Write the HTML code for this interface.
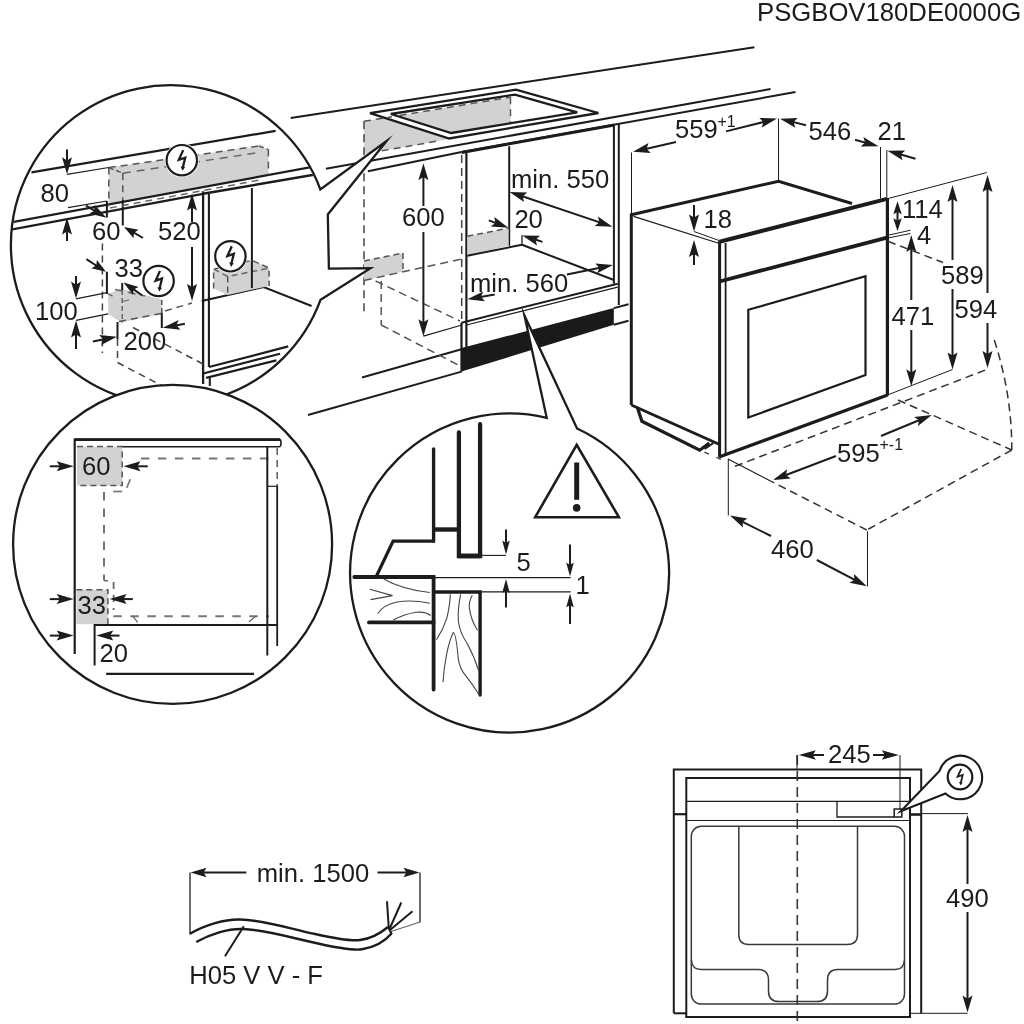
<!DOCTYPE html>
<html><head><meta charset="utf-8"><title>PSGBOV180DE0000G</title>
<style>
html,body{margin:0;padding:0;background:#fff;}
svg{display:block;filter:grayscale(1);}
text{font-family:"Liberation Sans",Arial,Helvetica,sans-serif;fill:#1c1c1c;}
</style></head><body>
<svg width="1024" height="1024" viewBox="0 0 1024 1024">
<rect width="1024" height="1024" fill="#fff"/>
<polygon points="364.0,121.3 510.5,97.2 510.5,128.2 364.0,154.0" fill="#d1d2d3" stroke="none" stroke-width="0"/>
<line x1="290.7" y1="117.9" x2="754.4" y2="47.3" stroke="#1c1c1c" stroke-width="2.0" stroke-linecap="butt"/>
<line x1="325.9" y1="168.8" x2="770.6" y2="89.0" stroke="#1c1c1c" stroke-width="2.0" stroke-linecap="butt"/>
<line x1="367.9" y1="171.2" x2="461.5" y2="152.0" stroke="#1c1c1c" stroke-width="2.0" stroke-linecap="butt"/>
<line x1="461.5" y1="152.0" x2="795.5" y2="92.1" stroke="#1c1c1c" stroke-width="2.0" stroke-linecap="butt"/>
<line x1="461.6" y1="152.4" x2="614.5" y2="125.0" stroke="#1c1c1c" stroke-width="3" stroke-linecap="butt"/>
<polygon points="370.0,113.1 516.0,89.6 598.4,113.0 449.2,138.5" fill="#fff" stroke="#1c1c1c" stroke-width="2.3"/>
<clipPath id="hobclip"><polygon points="390.8,114.0 515.0,94.6 577.2,112.3 451.2,133.0"/></clipPath>
<polygon points="390.8,114.0 515.0,94.6 577.2,112.3 451.2,133.0" fill="#fff" stroke="none" stroke-width="0"/>
<g clip-path="url(#hobclip)">
<polygon points="364.0,121.3 510.5,97.2 510.5,128.2 364.0,154.0" fill="#d1d2d3" stroke="none" stroke-width="0"/>
<line x1="364.0" y1="121.3" x2="510.5" y2="97.2" stroke="#555" stroke-width="1.5" stroke-dasharray="7 5" stroke-linecap="butt"/>
<line x1="510.5" y1="97.2" x2="510.5" y2="128.2" stroke="#555" stroke-width="1.5" stroke-dasharray="7 5" stroke-linecap="butt"/>
</g>
<polygon points="390.8,114.0 515.0,94.6 577.2,112.3 451.2,133.0" fill="none" stroke="#1c1c1c" stroke-width="2.3"/>
<line x1="364.0" y1="121.3" x2="364.0" y2="314.0" stroke="#444" stroke-width="1.5" stroke-dasharray="8 5" stroke-linecap="butt"/>
<line x1="364.0" y1="121.3" x2="392.0" y2="116.7" stroke="#555" stroke-width="1.5" stroke-dasharray="7 5" stroke-linecap="butt"/>
<line x1="370.0" y1="152.9" x2="440.2" y2="140.6" stroke="#555" stroke-width="1.5" stroke-dasharray="7 5" stroke-linecap="butt"/>
<line x1="461.7" y1="155.0" x2="461.7" y2="322.0" stroke="#444" stroke-width="1.5" stroke-dasharray="8 5" stroke-linecap="butt"/>
<line x1="466.4" y1="152.5" x2="466.4" y2="348.0" stroke="#1c1c1c" stroke-width="2.2" stroke-linecap="butt"/>
<line x1="461.5" y1="322.7" x2="461.5" y2="371.6" stroke="#1c1c1c" stroke-width="2.2" stroke-linecap="butt"/>
<line x1="509.2" y1="146.2" x2="509.2" y2="245.8" stroke="#1c1c1c" stroke-width="2.0" stroke-linecap="butt"/>
<line x1="613.9" y1="125.2" x2="613.9" y2="283.7" stroke="#1c1c1c" stroke-width="2.0" stroke-linecap="butt"/>
<line x1="618.8" y1="123.9" x2="618.8" y2="305.0" stroke="#1c1c1c" stroke-width="2.0" stroke-linecap="butt"/>
<polygon points="467.3,236.2 508.6,228.2 508.6,245.8 467.3,255.7" fill="#d1d2d3" stroke="none" stroke-width="0"/>
<line x1="467.3" y1="236.2" x2="508.6" y2="228.2" stroke="#555" stroke-width="1.5" stroke-dasharray="6 4" stroke-linecap="butt"/>
<line x1="467.3" y1="255.7" x2="522.0" y2="244.8" stroke="#1c1c1c" stroke-width="2.0" stroke-linecap="butt"/>
<line x1="522.0" y1="235.0" x2="522.0" y2="245.5" stroke="#1c1c1c" stroke-width="1.3" stroke-linecap="butt"/>
<line x1="522.0" y1="244.8" x2="613.9" y2="280.0" stroke="#1c1c1c" stroke-width="2.0" stroke-linecap="butt"/>
<line x1="461.5" y1="322.7" x2="617.7" y2="283.7" stroke="#1c1c1c" stroke-width="2.0" stroke-linecap="butt"/>
<line x1="466.4" y1="325.0" x2="617.7" y2="287.2" stroke="#1c1c1c" stroke-width="1.2" stroke-linecap="butt"/>
<polygon points="461.5,348.1 613.8,308.1 613.8,324.7 461.5,371.6" fill="#1a1a1a" stroke="none" stroke-width="0"/>
<line x1="613.8" y1="308.1" x2="628.5" y2="304.2" stroke="#1c1c1c" stroke-width="2.0" stroke-linecap="butt"/>
<line x1="613.8" y1="324.7" x2="628.5" y2="320.8" stroke="#1c1c1c" stroke-width="2.0" stroke-linecap="butt"/>
<line x1="362.0" y1="377.5" x2="461.5" y2="349.2" stroke="#1c1c1c" stroke-width="2.0" stroke-linecap="butt"/>
<line x1="308.0" y1="415.0" x2="461.5" y2="371.6" stroke="#1c1c1c" stroke-width="2.0" stroke-linecap="butt"/>
<polygon points="364.0,260.9 403.0,253.1 403.0,271.6 364.0,280.4" fill="#d1d2d3" stroke="none" stroke-width="0"/>
<line x1="364.0" y1="260.9" x2="403.0" y2="253.1" stroke="#555" stroke-width="1.5" stroke-dasharray="6 4" stroke-linecap="butt"/>
<line x1="403.0" y1="253.1" x2="403.0" y2="271.6" stroke="#555" stroke-width="1.5" stroke-dasharray="6 4" stroke-linecap="butt"/>
<line x1="364.0" y1="280.4" x2="461.7" y2="259.0" stroke="#555" stroke-width="1.5" stroke-dasharray="8 5" stroke-linecap="butt"/>
<line x1="381.2" y1="281.0" x2="381.2" y2="325.0" stroke="#555" stroke-width="1.5" stroke-dasharray="8 5" stroke-linecap="butt"/>
<line x1="381.2" y1="325.0" x2="460.0" y2="366.0" stroke="#555" stroke-width="1.5" stroke-dasharray="8 5" stroke-linecap="butt"/>
<line x1="375.6" y1="281.0" x2="460.0" y2="321.0" stroke="#555" stroke-width="1.5" stroke-dasharray="8 5" stroke-linecap="butt"/>
<line x1="423.4" y1="175.1" x2="423.4" y2="206.0" stroke="#1c1c1c" stroke-width="2.0" stroke-linecap="butt"/>
<polygon points="423.4,163.2 428.4,180.2 423.4,177.1 418.4,180.2" fill="#1c1c1c" stroke="none" stroke-width="0"/>
<line x1="423.4" y1="232.0" x2="423.4" y2="324.4" stroke="#1c1c1c" stroke-width="2.0" stroke-linecap="butt"/>
<polygon points="423.4,336.2 418.4,319.2 423.4,322.3 428.4,319.2" fill="#1c1c1c" stroke="none" stroke-width="0"/>
<line x1="423.4" y1="336.2" x2="461.9" y2="325.0" stroke="#1c1c1c" stroke-width="1.2" stroke-linecap="butt"/>
<text x="402.0" y="226.0" font-size="25.6" text-anchor="start" >600</text>
<text x="511.0" y="187.5" font-size="25.6" text-anchor="start" >min. 550</text>
<line x1="520.8" y1="195.7" x2="601.2" y2="222.9" stroke="#1c1c1c" stroke-width="2.0" stroke-linecap="butt"/>
<polygon points="509.5,191.9 527.2,192.6 522.7,196.4 524.0,202.1" fill="#1c1c1c" stroke="none" stroke-width="0"/>
<polygon points="612.5,226.8 594.8,226.0 599.3,222.3 598.0,216.6" fill="#1c1c1c" stroke="none" stroke-width="0"/>
<text x="514.4" y="228.4" font-size="25.6" text-anchor="start" >20</text>
<line x1="488.8" y1="220.4" x2="497.3" y2="223.6" stroke="#1c1c1c" stroke-width="2.0" stroke-linecap="butt"/>
<polygon points="508.4,227.8 490.7,226.5 495.4,222.9 494.3,217.1" fill="#1c1c1c" stroke="none" stroke-width="0"/>
<line x1="542.5" y1="241.9" x2="533.6" y2="239.0" stroke="#1c1c1c" stroke-width="2.0" stroke-linecap="butt"/>
<polygon points="522.3,235.4 540.0,235.8 535.6,239.7 537.0,245.4" fill="#1c1c1c" stroke="none" stroke-width="0"/>
<text x="470.0" y="291.5" font-size="25.6" text-anchor="start" >min. 560</text>
<line x1="494.7" y1="294.4" x2="479.0" y2="297.2" stroke="#1c1c1c" stroke-width="2.0" stroke-linecap="butt"/>
<polygon points="467.3,299.3 483.2,291.4 481.0,296.8 484.9,301.2" fill="#1c1c1c" stroke="none" stroke-width="0"/>
<line x1="567.0" y1="274.4" x2="601.3" y2="267.4" stroke="#1c1c1c" stroke-width="2.0" stroke-linecap="butt"/>
<polygon points="613.0,265.0 597.3,273.3 599.3,267.8 595.3,263.5" fill="#1c1c1c" stroke="none" stroke-width="0"/>
<polyline points="631.3,405.0 631.3,214.8 778.6,181.2 852.0,203.5" fill="none" stroke="#1c1c1c" stroke-width="3.0" stroke-linejoin="miter" stroke-linecap="butt"/>
<line x1="633.5" y1="216.3" x2="719.5" y2="243.5" stroke="#1c1c1c" stroke-width="1.3" stroke-linecap="butt"/>
<line x1="719.5" y1="241.8" x2="887.0" y2="198.9" stroke="#1c1c1c" stroke-width="4.0" stroke-linecap="butt"/>
<line x1="719.6" y1="241.0" x2="719.6" y2="457.2" stroke="#1c1c1c" stroke-width="3.0" stroke-linecap="butt"/>
<line x1="725.6" y1="243.0" x2="725.6" y2="456.0" stroke="#1c1c1c" stroke-width="1.8" stroke-linecap="butt"/>
<line x1="887.4" y1="198.5" x2="887.4" y2="395.5" stroke="#1c1c1c" stroke-width="3.2" stroke-linecap="butt"/>
<line x1="719.5" y1="281.5" x2="887.0" y2="237.6" stroke="#1c1c1c" stroke-width="3.8" stroke-linecap="butt"/>
<line x1="719.0" y1="457.0" x2="887.6" y2="395.0" stroke="#1c1c1c" stroke-width="3.4" stroke-linecap="butt"/>
<line x1="631.3" y1="405.0" x2="719.6" y2="444.5" stroke="#1c1c1c" stroke-width="3.0" stroke-linecap="butt"/>
<polyline points="637.6,408.2 641.9,421.3 699.7,450.2 709.3,443.0" fill="none" stroke="#1c1c1c" stroke-width="3.2" stroke-linejoin="miter" stroke-linecap="butt"/>
<line x1="704.6" y1="449.0" x2="713.2" y2="443.2" stroke="#1c1c1c" stroke-width="2.0" stroke-linecap="butt"/>
<polygon points="748.3,309.8 865.5,276.3 865.5,375.0 748.3,417.5" fill="none" stroke="#1c1c1c" stroke-width="2.2" stroke-linejoin="miter" stroke-linecap="butt"/>
<line x1="631.5" y1="152.5" x2="631.5" y2="214.0" stroke="#1c1c1c" stroke-width="1.0" stroke-linecap="butt"/>
<line x1="644.6" y1="149.2" x2="676.0" y2="142.0" stroke="#1c1c1c" stroke-width="2.0" stroke-linecap="butt"/>
<polygon points="633.0,151.8 648.5,143.1 646.6,148.7 650.7,152.9" fill="#1c1c1c" stroke="none" stroke-width="0"/>
<line x1="726.0" y1="131.4" x2="765.5" y2="121.5" stroke="#1c1c1c" stroke-width="2.0" stroke-linecap="butt"/>
<polygon points="777.0,118.6 761.7,127.6 763.5,122.0 759.3,117.9" fill="#1c1c1c" stroke="none" stroke-width="0"/>
<text x="675.0" y="137.8" font-size="25.6" text-anchor="start" >559</text>
<text x="717.5" y="127.2" font-size="16" text-anchor="start" >+1</text>
<line x1="778.5" y1="118.5" x2="778.5" y2="180.5" stroke="#1c1c1c" stroke-width="1.0" stroke-linecap="butt"/>
<line x1="791.6" y1="121.6" x2="806.0" y2="125.2" stroke="#1c1c1c" stroke-width="2.0" stroke-linecap="butt"/>
<polygon points="780.0,118.8 797.7,118.0 793.5,122.1 795.3,127.7" fill="#1c1c1c" stroke="none" stroke-width="0"/>
<line x1="855.0" y1="139.8" x2="867.0" y2="143.1" stroke="#1c1c1c" stroke-width="2.0" stroke-linecap="butt"/>
<polygon points="878.5,146.3 860.8,146.6 865.1,142.6 863.4,136.9" fill="#1c1c1c" stroke="none" stroke-width="0"/>
<text x="808.5" y="140.2" font-size="25.6" text-anchor="start" >546</text>
<line x1="880.5" y1="147.0" x2="880.5" y2="198.5" stroke="#1c1c1c" stroke-width="1.0" stroke-linecap="butt"/>
<line x1="886.8" y1="150.0" x2="886.8" y2="198.5" stroke="#1c1c1c" stroke-width="1.0" stroke-linecap="butt"/>
<text x="877.5" y="140.2" font-size="25.6" text-anchor="start" >21</text>
<line x1="915.5" y1="158.8" x2="898.9" y2="154.0" stroke="#1c1c1c" stroke-width="2.0" stroke-linecap="butt"/>
<polygon points="887.5,150.8 905.2,150.6 900.9,154.6 902.5,160.2" fill="#1c1c1c" stroke="none" stroke-width="0"/>
<text x="703.5" y="227.7" font-size="25.6" text-anchor="start" >18</text>
<line x1="694.0" y1="205.0" x2="694.0" y2="219.6" stroke="#1c1c1c" stroke-width="2.0" stroke-linecap="butt"/>
<polygon points="694.0,231.5 689.0,214.5 694.0,217.6 699.0,214.5" fill="#1c1c1c" stroke="none" stroke-width="0"/>
<line x1="694.0" y1="265.0" x2="694.0" y2="251.9" stroke="#1c1c1c" stroke-width="2.0" stroke-linecap="butt"/>
<polygon points="694.0,240.0 699.0,257.0 694.0,253.9 689.0,257.0" fill="#1c1c1c" stroke="none" stroke-width="0"/>
<line x1="694.0" y1="231.5" x2="719.0" y2="240.5" stroke="#1c1c1c" stroke-width="1.0" stroke-linecap="butt"/>
<line x1="887.0" y1="198.8" x2="986.8" y2="172.5" stroke="#1c1c1c" stroke-width="1.0" stroke-linecap="butt"/>
<line x1="897.5" y1="210.4" x2="897.5" y2="222.2" stroke="#1c1c1c" stroke-width="2.0" stroke-linecap="butt"/>
<polygon points="897.5,201.3 901.7,214.3 897.5,212.0 893.3,214.3" fill="#1c1c1c" stroke="none" stroke-width="0"/>
<polygon points="897.5,231.3 893.3,218.3 897.5,220.6 901.7,218.3" fill="#1c1c1c" stroke="none" stroke-width="0"/>
<text x="902.0" y="217.7" font-size="25.6" text-anchor="start" >114</text>
<text x="917.0" y="243.8" font-size="25.6" text-anchor="start" >4</text>
<line x1="888.0" y1="235.3" x2="910.5" y2="230.2" stroke="#1c1c1c" stroke-width="1.0" stroke-linecap="butt"/>
<line x1="888.0" y1="238.0" x2="910.5" y2="233.5" stroke="#1c1c1c" stroke-width="1.0" stroke-linecap="butt"/>
<line x1="911.3" y1="246.9" x2="911.3" y2="300.0" stroke="#1c1c1c" stroke-width="2.0" stroke-linecap="butt"/>
<polygon points="911.3,235.0 916.3,252.0 911.3,248.9 906.3,252.0" fill="#1c1c1c" stroke="none" stroke-width="0"/>
<line x1="911.3" y1="330.0" x2="911.3" y2="374.4" stroke="#1c1c1c" stroke-width="2.0" stroke-linecap="butt"/>
<polygon points="911.3,386.3 906.3,369.3 911.3,372.4 916.3,369.3" fill="#1c1c1c" stroke="none" stroke-width="0"/>
<text x="891.5" y="325.2" font-size="25.6" text-anchor="start" >471</text>
<line x1="952.5" y1="196.9" x2="952.5" y2="260.0" stroke="#1c1c1c" stroke-width="2.0" stroke-linecap="butt"/>
<polygon points="952.5,185.0 957.5,202.0 952.5,198.9 947.5,202.0" fill="#1c1c1c" stroke="none" stroke-width="0"/>
<line x1="952.5" y1="289.0" x2="952.5" y2="357.6" stroke="#1c1c1c" stroke-width="2.0" stroke-linecap="butt"/>
<polygon points="952.5,369.5 947.5,352.5 952.5,355.6 957.5,352.5" fill="#1c1c1c" stroke="none" stroke-width="0"/>
<text x="941.0" y="283.8" font-size="25.6" text-anchor="start" >589</text>
<line x1="987.5" y1="186.9" x2="987.5" y2="293.0" stroke="#1c1c1c" stroke-width="2.0" stroke-linecap="butt"/>
<polygon points="987.5,175.0 992.5,192.0 987.5,188.9 982.5,192.0" fill="#1c1c1c" stroke="none" stroke-width="0"/>
<line x1="987.5" y1="323.0" x2="987.5" y2="356.1" stroke="#1c1c1c" stroke-width="2.0" stroke-linecap="butt"/>
<polygon points="987.5,368.0 982.5,351.0 987.5,354.1 992.5,351.0" fill="#1c1c1c" stroke="none" stroke-width="0"/>
<text x="954.5" y="317.7" font-size="25.6" text-anchor="start" >594</text>
<line x1="887.5" y1="395.0" x2="952.5" y2="369.5" stroke="#1c1c1c" stroke-width="1.0" stroke-linecap="butt"/>
<line x1="888.0" y1="241.3" x2="943.0" y2="262.5" stroke="#333" stroke-width="1.5" stroke-dasharray="8 5" stroke-linecap="butt"/>
<path d="M994.3,340 Q1012,395 1011.8,450" fill="none" stroke="#333" stroke-width="1.5" stroke-dasharray="8 5" />
<line x1="735.0" y1="466.3" x2="986.8" y2="369.5" stroke="#333" stroke-width="1.5" stroke-dasharray="8 5" stroke-linecap="butt"/>
<line x1="898.0" y1="400.0" x2="1011.8" y2="450.0" stroke="#333" stroke-width="1.5" stroke-dasharray="8 5" stroke-linecap="butt"/>
<line x1="1011.8" y1="450.0" x2="866.8" y2="530.0" stroke="#333" stroke-width="1.5" stroke-dasharray="8 5" stroke-linecap="butt"/>
<line x1="866.8" y1="530.0" x2="772.5" y2="482.0" stroke="#333" stroke-width="1.5" stroke-dasharray="8 5" stroke-linecap="butt"/>
<line x1="704.4" y1="452.1" x2="728.0" y2="462.5" stroke="#444" stroke-width="1.4" stroke-dasharray="5 8" stroke-linecap="butt"/>
<line x1="728.0" y1="459.0" x2="772.5" y2="482.0" stroke="#1c1c1c" stroke-width="1.1" stroke-linecap="butt"/>
<line x1="784.1" y1="475.8" x2="836.0" y2="456.0" stroke="#1c1c1c" stroke-width="2.0" stroke-linecap="butt"/>
<polygon points="773.0,480.0 787.1,469.3 786.0,475.0 790.7,478.6" fill="#1c1c1c" stroke="none" stroke-width="0"/>
<line x1="881.0" y1="436.0" x2="920.8" y2="419.5" stroke="#1c1c1c" stroke-width="2.0" stroke-linecap="butt"/>
<polygon points="931.8,415.0 918.0,426.1 918.9,420.3 914.1,416.9" fill="#1c1c1c" stroke="none" stroke-width="0"/>
<text x="837.0" y="461.5" font-size="25.6" text-anchor="start" >595</text>
<text x="879.5" y="449.5" font-size="16" text-anchor="start" >+-1</text>
<line x1="728.3" y1="458.8" x2="728.3" y2="515.5" stroke="#1c1c1c" stroke-width="1.0" stroke-linecap="butt"/>
<line x1="867.5" y1="531.3" x2="867.5" y2="586.3" stroke="#1c1c1c" stroke-width="1.0" stroke-linecap="butt"/>
<line x1="740.6" y1="520.8" x2="771.0" y2="536.0" stroke="#1c1c1c" stroke-width="2.0" stroke-linecap="butt"/>
<polygon points="730.0,515.5 747.4,518.6 742.5,521.7 743.0,527.6" fill="#1c1c1c" stroke="none" stroke-width="0"/>
<line x1="816.8" y1="560.0" x2="856.2" y2="580.7" stroke="#1c1c1c" stroke-width="2.0" stroke-linecap="butt"/>
<polygon points="866.8,586.2 849.4,582.8 854.4,579.8 854.0,573.9" fill="#1c1c1c" stroke="none" stroke-width="0"/>
<text x="771.0" y="557.7" font-size="25.6" text-anchor="start" >460</text>
<text x="757.0" y="21.3" font-size="25.7" text-anchor="start" >PSGBOV180DE0000G</text>
<path d="M320.60,299.70 A159.7,159.7 0 1 1 320.31,189.31 L386.6,141.0 L327.8,214.5 L328.9,268.6 L370.5,268.1 Z" fill="#fff" stroke="#1c1c1c" stroke-width="2.3" stroke-linejoin="miter" stroke-miterlimit="10"/>
<clipPath id="c1"><circle cx="170.6" cy="244.9" r="158.79999999999998"/></clipPath>
<g clip-path="url(#c1)">
<polygon points="108.8,167.6 259.0,146.0 268.4,149.6 268.4,175.0 108.8,204.3" fill="#d1d2d3" stroke="none" stroke-width="0"/>
<line x1="31.5" y1="172.4" x2="275.6" y2="130.9" stroke="#1c1c1c" stroke-width="2.2" stroke-linecap="butt"/>
<line x1="0.0" y1="224.3" x2="340.0" y2="161.9" stroke="#1c1c1c" stroke-width="2.2" stroke-linecap="butt"/>
<line x1="0.0" y1="231.6" x2="203.0" y2="193.8" stroke="#1c1c1c" stroke-width="2.2" stroke-linecap="butt"/>
<line x1="203.0" y1="193.8" x2="330.0" y2="172.0" stroke="#1c1c1c" stroke-width="2.6" stroke-linecap="butt"/>
<line x1="108.8" y1="167.6" x2="259.0" y2="146.0" stroke="#555" stroke-width="1.5" stroke-dasharray="7 5" stroke-linecap="butt"/>
<line x1="259.0" y1="146.0" x2="268.4" y2="149.6" stroke="#555" stroke-width="1.5" stroke-dasharray="5 3" stroke-linecap="butt"/>
<line x1="268.4" y1="149.6" x2="268.4" y2="175.0" stroke="#555" stroke-width="1.5" stroke-dasharray="7 5" stroke-linecap="butt"/>
<line x1="108.8" y1="167.6" x2="108.8" y2="206.3" stroke="#555" stroke-width="1.5" stroke-dasharray="7 5" stroke-linecap="butt"/>
<line x1="108.8" y1="167.6" x2="122.8" y2="173.2" stroke="#555" stroke-width="1.5" stroke-dasharray="5 3" stroke-linecap="butt"/>
<line x1="122.8" y1="173.2" x2="259.0" y2="152.5" stroke="#666" stroke-width="1.5" stroke-dasharray="8 6" stroke-linecap="butt"/>
<line x1="122.8" y1="173.2" x2="122.8" y2="200.0" stroke="#555" stroke-width="1.5" stroke-dasharray="7 5" stroke-linecap="butt"/>
<line x1="122.8" y1="200.0" x2="122.8" y2="225.5" stroke="#1c1c1c" stroke-width="2.0" stroke-linecap="butt"/>
<line x1="110.0" y1="207.9" x2="262.0" y2="179.6" stroke="#666" stroke-width="1.5" stroke-dasharray="7 5" stroke-linecap="butt"/>
<line x1="67.0" y1="149.5" x2="67.0" y2="162.4" stroke="#1c1c1c" stroke-width="2.0" stroke-linecap="butt"/>
<polygon points="67.0,174.3 62.0,157.3 67.0,160.4 72.0,157.3" fill="#1c1c1c" stroke="none" stroke-width="0"/>
<line x1="67.0" y1="174.3" x2="108.8" y2="167.5" stroke="#1c1c1c" stroke-width="1.2" stroke-linecap="butt"/>
<line x1="67.0" y1="241.0" x2="67.0" y2="229.4" stroke="#1c1c1c" stroke-width="2.0" stroke-linecap="butt"/>
<polygon points="67.0,217.5 72.0,234.5 67.0,231.4 62.0,234.5" fill="#1c1c1c" stroke="none" stroke-width="0"/>
<line x1="68.0" y1="207.7" x2="106.9" y2="201.0" stroke="#1c1c1c" stroke-width="1.2" stroke-linecap="butt"/>
<text x="40.5" y="201.6" font-size="25.6" text-anchor="start" >80</text>
<line x1="106.9" y1="201.0" x2="106.9" y2="217.5" stroke="#1c1c1c" stroke-width="2.0" stroke-linecap="butt"/>
<line x1="86.0" y1="205.6" x2="96.3" y2="211.7" stroke="#1c1c1c" stroke-width="2.0" stroke-linecap="butt"/>
<polygon points="106.5,217.8 89.3,213.4 94.5,210.7 94.4,204.8" fill="#1c1c1c" stroke="none" stroke-width="0"/>
<line x1="143.0" y1="238.0" x2="132.5" y2="231.9" stroke="#1c1c1c" stroke-width="2.0" stroke-linecap="butt"/>
<polygon points="124.0,227.0 138.6,229.7 133.9,232.8 133.6,238.3" fill="#1c1c1c" stroke="none" stroke-width="0"/>
<text x="92.0" y="240.4" font-size="25.6" text-anchor="start" >60</text>
<line x1="192.0" y1="205.5" x2="192.0" y2="222.0" stroke="#1c1c1c" stroke-width="2.0" stroke-linecap="butt"/>
<polygon points="192.0,193.6 197.0,210.6 192.0,207.5 187.0,210.6" fill="#1c1c1c" stroke="none" stroke-width="0"/>
<line x1="192.0" y1="247.0" x2="192.0" y2="289.1" stroke="#1c1c1c" stroke-width="2.0" stroke-linecap="butt"/>
<polygon points="192.0,301.0 187.0,284.0 192.0,287.1 197.0,284.0" fill="#1c1c1c" stroke="none" stroke-width="0"/>
<text x="158.0" y="239.5" font-size="25.6" text-anchor="start" >520</text>
<line x1="203.1" y1="191.2" x2="203.1" y2="384.0" stroke="#1c1c1c" stroke-width="2.3" stroke-linecap="butt"/>
<line x1="208.9" y1="194.0" x2="208.9" y2="367.0" stroke="#1c1c1c" stroke-width="2.1" stroke-linecap="butt"/>
<line x1="251.9" y1="188.0" x2="251.9" y2="288.0" stroke="#1c1c1c" stroke-width="2.0" stroke-linecap="butt"/>
<polyline points="201.7,301.0 263.6,287.0 311.6,306.1" fill="none" stroke="#1c1c1c" stroke-width="2.1" stroke-linejoin="miter" stroke-linecap="butt"/>
<polygon points="213.6,269.2 251.9,260.3 269.1,268.1 269.1,285.9 227.7,295.0 213.6,288.4" fill="#d1d2d3" stroke="none" stroke-width="0"/>
<polyline points="213.6,288.4 213.6,269.2 251.9,260.3 269.1,268.1 269.1,285.9" fill="none" stroke="#555" stroke-width="1.5" stroke-dasharray="6 4" stroke-linejoin="miter" stroke-linecap="butt"/>
<polyline points="213.6,269.2 227.7,276.5 269.1,268.1" fill="none" stroke="#666" stroke-width="1.5" stroke-dasharray="6 4" stroke-linejoin="miter" stroke-linecap="butt"/>
<line x1="227.7" y1="276.5" x2="227.7" y2="295.0" stroke="#555" stroke-width="1.5" stroke-dasharray="6 4" stroke-linecap="butt"/>
<line x1="251.9" y1="260.3" x2="251.9" y2="288.0" stroke="#1c1c1c" stroke-width="2.0" stroke-linecap="butt"/>
<line x1="209.0" y1="367.0" x2="288.2" y2="346.4" stroke="#1c1c1c" stroke-width="2.2" stroke-linecap="butt"/>
<line x1="203.2" y1="373.5" x2="280.1" y2="353.8" stroke="#1c1c1c" stroke-width="2.2" stroke-linecap="butt"/>
<line x1="206.1" y1="377.9" x2="276.4" y2="360.4" stroke="#1c1c1c" stroke-width="2.2" stroke-linecap="butt"/>
<line x1="209.8" y1="378.0" x2="209.8" y2="386.0" stroke="#1c1c1c" stroke-width="2.0" stroke-linecap="butt"/>
<line x1="102.4" y1="243.5" x2="102.4" y2="353.0" stroke="#444" stroke-width="1.5" stroke-dasharray="7 5" stroke-linecap="butt"/>
<line x1="86.4" y1="259.1" x2="97.7" y2="266.5" stroke="#1c1c1c" stroke-width="2.0" stroke-linecap="butt"/>
<polygon points="105.9,271.8 91.4,268.3 96.3,265.5 96.9,260.0" fill="#1c1c1c" stroke="none" stroke-width="0"/>
<line x1="106.9" y1="271.8" x2="106.9" y2="294.0" stroke="#1c1c1c" stroke-width="2.0" stroke-linecap="butt"/>
<text x="114.5" y="276.6" font-size="25.6" text-anchor="start" >33</text>
<line x1="76.0" y1="276.0" x2="76.0" y2="286.7" stroke="#1c1c1c" stroke-width="2.0" stroke-linecap="butt"/>
<polygon points="76.0,298.6 71.0,281.6 76.0,284.7 81.0,281.6" fill="#1c1c1c" stroke="none" stroke-width="0"/>
<line x1="76.0" y1="349.0" x2="76.0" y2="332.5" stroke="#1c1c1c" stroke-width="2.0" stroke-linecap="butt"/>
<polygon points="76.0,320.6 81.0,337.6 76.0,334.5 71.0,337.6" fill="#1c1c1c" stroke="none" stroke-width="0"/>
<line x1="76.0" y1="298.8" x2="108.1" y2="292.4" stroke="#1c1c1c" stroke-width="1.2" stroke-linecap="butt"/>
<line x1="76.0" y1="320.4" x2="108.1" y2="313.9" stroke="#1c1c1c" stroke-width="1.2" stroke-linecap="butt"/>
<text x="35.0" y="319.8" font-size="25.6" text-anchor="start" >100</text>
<polygon points="108.1,293.8 121.0,288.6 161.8,299.6 161.8,313.5 121.4,322.4 108.1,314.0" fill="#d1d2d3" stroke="none" stroke-width="0"/>
<line x1="122.2" y1="283.0" x2="122.2" y2="290.0" stroke="#1c1c1c" stroke-width="2.0" stroke-linecap="butt"/>
<line x1="122.2" y1="290.0" x2="122.2" y2="322.7" stroke="#667" stroke-width="1.5" stroke-dasharray="5 3" stroke-linecap="butt"/>
<line x1="108.1" y1="293.8" x2="114.5" y2="297.0" stroke="#667" stroke-width="1.4" stroke-dasharray="5 3" stroke-linecap="butt"/>
<line x1="115.0" y1="289.5" x2="145.0" y2="296.0" stroke="#667" stroke-width="1.4" stroke-dasharray="8 5" stroke-linecap="butt"/>
<line x1="122.2" y1="301.5" x2="129.0" y2="300.0" stroke="#667" stroke-width="1.1" stroke-linecap="butt"/>
<line x1="119.0" y1="321.5" x2="161.8" y2="313.3" stroke="#555" stroke-width="1.5" stroke-dasharray="7 5" stroke-linecap="butt"/>
<line x1="161.8" y1="300.0" x2="161.8" y2="313.0" stroke="#555" stroke-width="1.5" stroke-dasharray="5 3" stroke-linecap="butt"/>
<line x1="161.8" y1="313.0" x2="161.8" y2="327.9" stroke="#1c1c1c" stroke-width="2.0" stroke-linecap="butt"/>
<line x1="165.0" y1="311.0" x2="192.0" y2="303.0" stroke="#555" stroke-width="1.5" stroke-dasharray="7 5" stroke-linecap="butt"/>
<line x1="142.0" y1="295.2" x2="132.2" y2="288.4" stroke="#1c1c1c" stroke-width="2.0" stroke-linecap="butt"/>
<polygon points="123.5,282.5 138.6,287.0 133.6,289.5 133.1,294.9" fill="#1c1c1c" stroke="none" stroke-width="0"/>
<line x1="92.9" y1="341.4" x2="105.2" y2="339.0" stroke="#1c1c1c" stroke-width="2.0" stroke-linecap="butt"/>
<polygon points="116.9,336.7 101.2,344.9 103.2,339.4 99.3,335.1" fill="#1c1c1c" stroke="none" stroke-width="0"/>
<line x1="117.5" y1="322.0" x2="117.5" y2="339.0" stroke="#1c1c1c" stroke-width="2.0" stroke-linecap="butt"/>
<line x1="117.5" y1="339.0" x2="117.5" y2="362.5" stroke="#444" stroke-width="1.5" stroke-dasharray="7 5" stroke-linecap="butt"/>
<line x1="117.5" y1="362.5" x2="170.0" y2="390.0" stroke="#444" stroke-width="1.5" stroke-dasharray="7 5" stroke-linecap="butt"/>
<line x1="133.0" y1="327.5" x2="203.0" y2="364.0" stroke="#444" stroke-width="1.5" stroke-dasharray="7 5" stroke-linecap="butt"/>
<line x1="184.9" y1="323.8" x2="174.5" y2="325.7" stroke="#1c1c1c" stroke-width="2.0" stroke-linecap="butt"/>
<polygon points="162.8,327.8 178.6,319.9 176.5,325.3 180.4,329.7" fill="#1c1c1c" stroke="none" stroke-width="0"/>
<text x="123.5" y="349.8" font-size="25.6" text-anchor="start" >200</text>
<circle cx="181.8" cy="160.2" r="17.0" fill="#fff"/>
<circle cx="181.8" cy="160.2" r="15.2" fill="#fff" stroke="#1c1c1c" stroke-width="2.2"/>
<polyline points="183.2,150.1 178.8,159.9 185.2,157.7 182.7,167.9" fill="none" stroke="#1c1c1c" stroke-width="2.3" stroke-linejoin="miter"/>
<polygon points="182.5,170.8 180.6,166.5 185.2,166.9" fill="#1c1c1c" stroke="none" stroke-width="0"/>
<circle cx="230.4" cy="256.3" r="17.0" fill="#fff"/>
<circle cx="230.4" cy="256.3" r="15.2" fill="#fff" stroke="#1c1c1c" stroke-width="2.2"/>
<polyline points="231.8,246.2 227.4,256.0 233.8,253.8 231.3,264.0" fill="none" stroke="#1c1c1c" stroke-width="2.3" stroke-linejoin="miter"/>
<polygon points="231.1,266.9 229.2,262.6 233.8,263.0" fill="#1c1c1c" stroke="none" stroke-width="0"/>
<circle cx="158.6" cy="281.0" r="17.0" fill="#fff"/>
<circle cx="158.6" cy="281.0" r="15.2" fill="#fff" stroke="#1c1c1c" stroke-width="2.2"/>
<polyline points="160.0,270.9 155.6,280.7 162.0,278.5 159.5,288.7" fill="none" stroke="#1c1c1c" stroke-width="2.3" stroke-linejoin="miter"/>
<polygon points="159.3,291.6 157.4,287.3 162.0,287.7" fill="#1c1c1c" stroke="none" stroke-width="0"/>
</g>
<circle cx="172.6" cy="544.4" r="159.5" fill="#fff" stroke="#1c1c1c" stroke-width="2.3"/>
<path d="M74.7,439.3 H279 Q281,439.3 281,442.8 Q281,446.8 279,446.8 H122.5" fill="none" stroke="#1c1c1c" stroke-width="1.6" />
<line x1="74.0" y1="439.6" x2="280.0" y2="439.6" stroke="#1c1c1c" stroke-width="2.6" stroke-linecap="butt"/>
<line x1="74.7" y1="439.0" x2="74.7" y2="654.0" stroke="#1c1c1c" stroke-width="2.2" stroke-linecap="butt"/>
<rect x="77" y="446.6" width="45.2" height="39" fill="#d1d2d3"/>
<polyline points="77.0,446.6 122.2,446.6 122.2,485.6 77.0,485.6" fill="none" stroke="#555" stroke-width="1.5" stroke-dasharray="6 4" stroke-linejoin="miter" stroke-linecap="butt"/>
<text x="82.0" y="474.8" font-size="25.6" text-anchor="start" >60</text>
<line x1="49.8" y1="466.3" x2="61.8" y2="466.3" stroke="#1c1c1c" stroke-width="2.0" stroke-linecap="butt"/>
<polygon points="73.7,466.3 56.7,471.3 59.8,466.3 56.7,461.3" fill="#1c1c1c" stroke="none" stroke-width="0"/>
<line x1="147.7" y1="466.3" x2="135.4" y2="466.3" stroke="#1c1c1c" stroke-width="2.0" stroke-linecap="butt"/>
<polygon points="123.5,466.3 140.5,461.3 137.4,466.3 140.5,471.3" fill="#1c1c1c" stroke="none" stroke-width="0"/>
<line x1="140.9" y1="458.5" x2="269.0" y2="458.5" stroke="#777" stroke-width="1.9" stroke-dasharray="8.5 8.5" stroke-linecap="butt"/>
<line x1="130.3" y1="479.2" x2="126.8" y2="487.8" stroke="#777" stroke-width="1.7" stroke-linecap="butt"/>
<line x1="113.3" y1="491.5" x2="122.1" y2="491.5" stroke="#777" stroke-width="1.7" stroke-linecap="butt"/>
<line x1="104.0" y1="492.0" x2="104.0" y2="580.5" stroke="#666" stroke-width="1.8" stroke-dasharray="8.5 8" stroke-linecap="butt"/>
<line x1="104.0" y1="580.5" x2="108.0" y2="581.0" stroke="#666" stroke-width="1.6" stroke-linecap="butt"/>
<line x1="113.6" y1="582.0" x2="113.6" y2="610.0" stroke="#666" stroke-width="1.8" stroke-dasharray="7 6" stroke-linecap="butt"/>
<line x1="113.3" y1="616.3" x2="269.0" y2="616.3" stroke="#777" stroke-width="1.9" stroke-dasharray="8.5 8.5" stroke-linecap="butt"/>
<line x1="267.3" y1="446.5" x2="267.3" y2="655.5" stroke="#1c1c1c" stroke-width="2.0" stroke-linecap="butt"/>
<line x1="277.2" y1="448.0" x2="277.2" y2="486.0" stroke="#555" stroke-width="1.5" stroke-dasharray="7 5" stroke-linecap="butt"/>
<line x1="277.2" y1="486.0" x2="277.2" y2="646.0" stroke="#1c1c1c" stroke-width="1.8" stroke-linecap="butt"/>
<line x1="267.3" y1="486.3" x2="277.2" y2="486.3" stroke="#1c1c1c" stroke-width="1.2" stroke-linecap="butt"/>
<rect x="76.4" y="589.8" width="31.5" height="34.4" fill="#d1d2d3"/>
<polyline points="76.4,589.8 107.9,589.8 107.9,624.0" fill="none" stroke="#555" stroke-width="1.5" stroke-dasharray="6 4" stroke-linejoin="miter" stroke-linecap="butt"/>
<text x="77.5" y="614.2" font-size="25.6" text-anchor="start" >33</text>
<line x1="49.8" y1="599.1" x2="61.8" y2="599.1" stroke="#1c1c1c" stroke-width="2.0" stroke-linecap="butt"/>
<polygon points="73.7,599.1 56.7,604.1 59.8,599.1 56.7,594.1" fill="#1c1c1c" stroke="none" stroke-width="0"/>
<line x1="132.8" y1="599.1" x2="121.5" y2="599.1" stroke="#1c1c1c" stroke-width="2.0" stroke-linecap="butt"/>
<polygon points="109.6,599.1 126.6,594.1 123.5,599.1 126.6,604.1" fill="#1c1c1c" stroke="none" stroke-width="0"/>
<polyline points="94.6,665.5 94.6,625.0 277.2,625.0" fill="none" stroke="#1c1c1c" stroke-width="2.0" stroke-linejoin="miter" stroke-linecap="butt"/>
<line x1="49.8" y1="635.6" x2="61.8" y2="635.6" stroke="#1c1c1c" stroke-width="2.0" stroke-linecap="butt"/>
<polygon points="73.7,635.6 56.7,640.6 59.8,635.6 56.7,630.6" fill="#1c1c1c" stroke="none" stroke-width="0"/>
<line x1="119.5" y1="635.6" x2="108.2" y2="635.6" stroke="#1c1c1c" stroke-width="2.0" stroke-linecap="butt"/>
<polygon points="96.3,635.6 113.3,630.6 110.2,635.6 113.3,640.6" fill="#1c1c1c" stroke="none" stroke-width="0"/>
<text x="99.5" y="662.4" font-size="25.6" text-anchor="start" >20</text>
<line x1="106.2" y1="673.8" x2="254.0" y2="673.8" stroke="#1c1c1c" stroke-width="2.2" stroke-linecap="butt"/>
<line x1="132.8" y1="616.4" x2="137.8" y2="622.4" stroke="#555" stroke-width="1.1" stroke-linecap="butt"/>
<line x1="255.6" y1="616.4" x2="249.0" y2="621.7" stroke="#555" stroke-width="1.1" stroke-linecap="butt"/>
<path d="M577.04,428.46 A159.5,159.5 0 1 1 546.76,417.89 L524.5,315.7 Z" fill="#fff" stroke="#1c1c1c" stroke-width="2.3" stroke-linejoin="miter" stroke-miterlimit="20"/>
<polygon points="576.7,444.8 535.2,517.2 618.9,517.2" fill="none" stroke="#1c1c1c" stroke-width="2.6" stroke-linejoin="miter" stroke-linecap="butt"/>
<line x1="576.7" y1="462.5" x2="576.7" y2="499.8" stroke="#1c1c1c" stroke-width="5.0" stroke-linecap="butt"/>
<circle cx="576.7" cy="507.9" r="3.8" fill="#1c1c1c"/>
<line x1="433.6" y1="449.0" x2="433.6" y2="541.1" stroke="#1c1c1c" stroke-width="3.4" stroke-linecap="round"/>
<line x1="433.6" y1="529.5" x2="458.9" y2="529.5" stroke="#1c1c1c" stroke-width="4.4" stroke-linecap="butt"/>
<polyline points="458.9,432.5 458.9,556.0 480.1,556.0 480.1,424.2" fill="none" stroke="#1c1c1c" stroke-width="4.3" stroke-linejoin="miter" stroke-linecap="round"/>
<line x1="458.9" y1="556.0" x2="480.1" y2="556.0" stroke="#1c1c1c" stroke-width="4.6" stroke-linecap="butt"/>
<polyline points="435.0,541.1 393.1,541.1 376.5,576.0" fill="none" stroke="#1c1c1c" stroke-width="3.2" stroke-linejoin="miter" stroke-linecap="butt"/>
<polyline points="354.3,577.0 433.6,577.0 433.6,689.5" fill="none" stroke="#1c1c1c" stroke-width="3.8" stroke-linejoin="miter" stroke-linecap="round"/>
<polyline points="433.6,592.0 480.1,592.0 480.1,695.0" fill="none" stroke="#1c1c1c" stroke-width="3.4" stroke-linejoin="miter" stroke-linecap="round"/>
<line x1="369.0" y1="622.4" x2="433.6" y2="622.4" stroke="#1c1c1c" stroke-width="3.8" stroke-linecap="round"/>
<line x1="482.0" y1="555.4" x2="506.0" y2="555.4" stroke="#1c1c1c" stroke-width="1.1" stroke-linecap="butt"/>
<line x1="434.0" y1="577.6" x2="570.7" y2="577.6" stroke="#1c1c1c" stroke-width="1.1" stroke-linecap="butt"/>
<line x1="481.0" y1="591.9" x2="570.7" y2="591.9" stroke="#1c1c1c" stroke-width="1.1" stroke-linecap="butt"/>
<line x1="506.0" y1="529.5" x2="506.0" y2="544.8" stroke="#1c1c1c" stroke-width="2.0" stroke-linecap="butt"/>
<polygon points="506.0,554.6 502.2,540.6 506.0,543.1 509.8,540.6" fill="#1c1c1c" stroke="none" stroke-width="0"/>
<line x1="506.0" y1="607.5" x2="506.0" y2="588.8" stroke="#1c1c1c" stroke-width="2.0" stroke-linecap="butt"/>
<polygon points="506.0,579.0 509.8,593.0 506.0,590.5 502.2,593.0" fill="#1c1c1c" stroke="none" stroke-width="0"/>
<line x1="570.0" y1="544.4" x2="570.0" y2="566.6" stroke="#1c1c1c" stroke-width="2.0" stroke-linecap="butt"/>
<polygon points="570.0,576.4 566.2,562.4 570.0,564.9 573.8,562.4" fill="#1c1c1c" stroke="none" stroke-width="0"/>
<line x1="570.0" y1="624.0" x2="570.0" y2="603.3" stroke="#1c1c1c" stroke-width="2.0" stroke-linecap="butt"/>
<polygon points="570.0,593.5 573.8,607.5 570.0,605.0 566.2,607.5" fill="#1c1c1c" stroke="none" stroke-width="0"/>
<text x="516.5" y="571.0" font-size="25.6" text-anchor="start" >5</text>
<text x="575.5" y="594.4" font-size="25.6" text-anchor="start" >1</text>
<path d="M383.7,579 Q402,589.5 429.8,592.5" fill="none" stroke="#444" stroke-width="1.1" />
<path d="M369.8,589.3 L392.5,595.6 L370.5,599.6" fill="none" stroke="#444" stroke-width="1.1" />
<path d="M377.8,613.5 Q384,604.5 397,602 Q412,599.5 429.8,603.2" fill="none" stroke="#444" stroke-width="1.1" />
<path d="M393.2,620 Q405,614 416,612.3 Q426,611.3 430.6,615.7" fill="none" stroke="#444" stroke-width="1.1" />
<path d="M450.4,594.4 Q449.5,608 446.7,618.6 Q443,630 436.4,639.8" fill="none" stroke="#444" stroke-width="1.1" />
<path d="M460.6,594.4 Q457.5,610 458.4,621.5 Q460,633 467.2,643.5 Q474,656 478.9,671.3" fill="none" stroke="#444" stroke-width="1.1" />
<path d="M472.3,595.2 Q468.5,602 469.4,608.3 Q471,620 477.5,630.3" fill="none" stroke="#444" stroke-width="1.1" />
<path d="M443,682.3 Q444,667 446.7,653.8 Q449.5,640 453.3,632.5 Q456,633 458.4,659.6 Q460,669 465.7,675.7 Q473,685 479.6,695.5" fill="none" stroke="#444" stroke-width="1.1" />
<polyline points="673.8,1013.3 673.8,769.5 921.2,769.5 921.2,1013.3" fill="none" stroke="#1c1c1c" stroke-width="2.0" stroke-linejoin="miter" stroke-linecap="butt"/>
<polyline points="686.3,1017.0 686.3,778.0 910.0,778.0 910.0,1017.0" fill="none" stroke="#1c1c1c" stroke-width="2.0" stroke-linejoin="miter" stroke-linecap="butt"/>
<line x1="685.3" y1="1017.0" x2="911.0" y2="1017.0" stroke="#1c1c1c" stroke-width="2.2" stroke-linecap="butt"/>
<line x1="673.8" y1="1013.3" x2="686.3" y2="1013.3" stroke="#1c1c1c" stroke-width="2.0" stroke-linecap="butt"/>
<line x1="910.0" y1="1013.3" x2="967.5" y2="1013.3" stroke="#1c1c1c" stroke-width="1.0" stroke-linecap="butt"/>
<line x1="673.8" y1="814.2" x2="686.3" y2="814.2" stroke="#1c1c1c" stroke-width="2.2" stroke-linecap="butt"/>
<line x1="910.0" y1="814.5" x2="921.2" y2="814.5" stroke="#1c1c1c" stroke-width="2.6" stroke-linecap="butt"/>
<line x1="921.2" y1="813.6" x2="968.0" y2="813.6" stroke="#1c1c1c" stroke-width="1.0" stroke-linecap="butt"/>
<line x1="686.3" y1="801.3" x2="910.0" y2="801.3" stroke="#1c1c1c" stroke-width="1.2" stroke-linecap="butt"/>
<line x1="686.3" y1="820.5" x2="910.0" y2="820.5" stroke="#1c1c1c" stroke-width="1.2" stroke-linecap="butt"/>
<polyline points="837.0,801.3 837.0,817.0 894.0,817.0" fill="none" stroke="#1c1c1c" stroke-width="1.3" stroke-linejoin="miter" stroke-linecap="butt"/>
<rect x="894.2" y="809" width="7.6" height="8" fill="#fff" stroke="#1c1c1c" stroke-width="1.5"/>
<rect x="691.3" y="826.3" width="213.2" height="177.8" rx="10" ry="10" fill="none" stroke="#3a3a3a" stroke-width="1.5"/>
<path d="M738.8,826.3 V934.5 Q738.8,944.5 748.8,944.5 H847.5 Q857.5,944.5 857.5,934.5 V826.3" fill="none" stroke="#3a3a3a" stroke-width="1.5" />
<path d="M691.3,960 Q692,969.5 701,969.5 H758 Q768.5,969.5 768.5,980 V991 Q768.5,1001.6 779,1001.6 H817 Q827.5,1001.6 827.5,991 V980 Q827.5,969.5 838,969.5 H895 Q904,969.5 904.5,960" fill="none" stroke="#3a3a3a" stroke-width="1.5" />
<line x1="797.3" y1="755.0" x2="797.3" y2="1024.0" stroke="#333" stroke-width="1.6" stroke-dasharray="10 6" stroke-linecap="butt"/>
<line x1="797.0" y1="755.0" x2="797.0" y2="769.0" stroke="#1c1c1c" stroke-width="1.0" stroke-linecap="butt"/>
<line x1="900.0" y1="755.0" x2="900.0" y2="809.5" stroke="#1c1c1c" stroke-width="1.0" stroke-linecap="butt"/>
<line x1="810.7" y1="755.0" x2="824.0" y2="755.0" stroke="#1c1c1c" stroke-width="2.0" stroke-linecap="butt"/>
<polygon points="798.8,755.0 815.8,750.2 812.7,755.0 815.8,759.8" fill="#1c1c1c" stroke="none" stroke-width="0"/>
<line x1="873.0" y1="755.0" x2="886.9" y2="755.0" stroke="#1c1c1c" stroke-width="2.0" stroke-linecap="butt"/>
<polygon points="898.8,755.0 881.8,759.8 884.9,755.0 881.8,750.2" fill="#1c1c1c" stroke="none" stroke-width="0"/>
<text x="828.0" y="762.8" font-size="25.6" text-anchor="start" >245</text>
<line x1="967.5" y1="826.9" x2="967.5" y2="884.0" stroke="#1c1c1c" stroke-width="2.0" stroke-linecap="butt"/>
<polygon points="967.5,815.0 972.5,832.0 967.5,828.9 962.5,832.0" fill="#1c1c1c" stroke="none" stroke-width="0"/>
<line x1="967.5" y1="912.0" x2="967.5" y2="1000.7" stroke="#1c1c1c" stroke-width="2.0" stroke-linecap="butt"/>
<polygon points="967.5,1012.6 962.5,995.6 967.5,998.7 972.5,995.6" fill="#1c1c1c" stroke="none" stroke-width="0"/>
<text x="946.0" y="906.5" font-size="25.6" text-anchor="start" >490</text>
<path d="M939.5,771 A21.8,21.8 0 1 1 945.5,793.5 L900.8,811.3 Z" fill="#fff" stroke="#1c1c1c" stroke-width="2.1" stroke-linejoin="miter" stroke-miterlimit="20"/>
<circle cx="960.0" cy="777.0" r="12.3" fill="#fff" stroke="#1c1c1c" stroke-width="2.2"/>
<polyline points="961.2,768.9 957.6,776.8 962.7,775.0 960.7,783.2" fill="none" stroke="#1c1c1c" stroke-width="1.8" stroke-linejoin="miter"/>
<polygon points="960.6,785.6 959.0,782.1 962.7,782.4" fill="#1c1c1c" stroke="none" stroke-width="0"/>
<line x1="190.0" y1="872.5" x2="190.0" y2="934.5" stroke="#1c1c1c" stroke-width="1.3" stroke-linecap="butt"/>
<line x1="420.0" y1="872.5" x2="420.0" y2="922.5" stroke="#1c1c1c" stroke-width="1.3" stroke-linecap="butt"/>
<line x1="201.7" y1="872.5" x2="246.3" y2="872.5" stroke="#1c1c1c" stroke-width="2.0" stroke-linecap="butt"/>
<polygon points="190.5,872.5 206.5,867.7 203.6,872.5 206.5,877.3" fill="#1c1c1c" stroke="none" stroke-width="0"/>
<line x1="377.5" y1="872.5" x2="408.3" y2="872.5" stroke="#1c1c1c" stroke-width="2.0" stroke-linecap="butt"/>
<polygon points="419.5,872.5 403.5,877.3 406.4,872.5 403.5,867.7" fill="#1c1c1c" stroke="none" stroke-width="0"/>
<text x="256.8" y="881.5" font-size="25.6" text-anchor="start" >min. 1500</text>
<path d="M190,933.8 C205,925 225,919 240,919.5 C265,920 290,929 315,934 C335,938.5 350,941.5 360,940 C372,938.5 382,932 388,927" fill="none" stroke="#1c1c1c" stroke-width="2.4" />
<path d="M196.3,942 C210,934 228,928.5 243,929 C268,930 293,938.5 318,943.5 C338,948 352,950.8 362,949.3 C376,947 386,940 391.3,933.8" fill="none" stroke="#1c1c1c" stroke-width="2.4" />
<line x1="388.8" y1="928.8" x2="387.0" y2="901.3" stroke="#1c1c1c" stroke-width="2.0" stroke-linecap="butt"/>
<line x1="389.5" y1="929.0" x2="401.3" y2="902.5" stroke="#1c1c1c" stroke-width="2.0" stroke-linecap="butt"/>
<line x1="390.0" y1="930.0" x2="412.5" y2="911.3" stroke="#1c1c1c" stroke-width="2.0" stroke-linecap="butt"/>
<line x1="391.0" y1="931.5" x2="420.0" y2="922.0" stroke="#666" stroke-width="1.3" stroke-linecap="butt"/>
<line x1="388.0" y1="926.5" x2="391.8" y2="934.5" stroke="#1c1c1c" stroke-width="2.0" stroke-linecap="butt"/>
<line x1="243.8" y1="926.3" x2="225.0" y2="956.3" stroke="#1c1c1c" stroke-width="2.0" stroke-linecap="butt"/>
<text x="189.3" y="983.8" font-size="25.6" text-anchor="start" >H05 V V - F</text>
</svg>
</body></html>
